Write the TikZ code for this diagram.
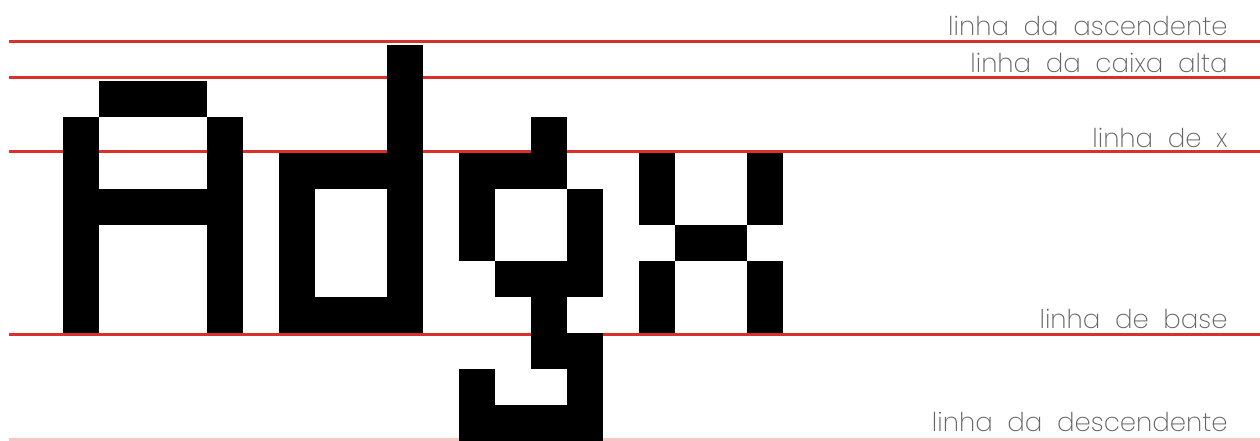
\documentclass[tikz,border=0pt]{standalone}
\usepackage{fontspec}
\newfontfamily\lblfont{Poppins ExtraLight}
\definecolor{guidered}{RGB}{218,48,44}
\definecolor{guidepink}{RGB}{245,200,195}
\definecolor{lblgray}{RGB}{100,100,100}
\begin{document}
\begin{tikzpicture}[x=0.5pt,y=-0.5pt,
  guide/.style={draw=guidered,line width=1.5pt},
  pix/.style={fill=black},
  lbl/.style={anchor=base east,inner sep=0pt,text=lblgray,font=\lblfont\fontsize{13}{13}\selectfont}]
\useasboundingbox (0,0) rectangle (1260,440);
% guide lines
\coordinate (asL) at (9,41);   \coordinate (asR) at (1260,41);
\coordinate (caL) at (9,77);   \coordinate (caR) at (1260,77);
\coordinate (xhL) at (9,151);  \coordinate (xhR) at (1260,151);
\coordinate (baL) at (9,334);  \coordinate (baR) at (1260,334);
\coordinate (deL) at (9,439);  \coordinate (deR) at (1260,439);
\draw[guide] (asL) -- (asR);
\draw[guide] (caL) -- (caR);
\draw[guide] (xhL) -- (xhR);
\draw[guide] (baL) -- (baR);
\draw[draw=guidepink,line width=1.5pt] (deL) -- (deR);
% A
\fill[pix] (99,81) rectangle (207,117);
\fill[pix] (63,117) rectangle (99,333);
\fill[pix] (207,117) rectangle (243,333);
\fill[pix] (99,189) rectangle (207,225);
% d
\fill[pix] (387,45) rectangle (423,333);
\fill[pix] (279,153) rectangle (387,189);
\fill[pix] (279,189) rectangle (315,333);
\fill[pix] (315,297) rectangle (387,333);
% g
\fill[pix] (531,117) rectangle (567,153);
\fill[pix] (459,153) rectangle (567,189);
\fill[pix] (459,189) rectangle (495,261);
\fill[pix] (567,189) rectangle (603,261);
\fill[pix] (495,261) rectangle (603,297);
\fill[pix] (531,297) rectangle (567,333);
\fill[pix] (531,333) rectangle (603,369);
\fill[pix] (459,369) rectangle (495,405);
\fill[pix] (567,369) rectangle (603,405);
\fill[pix] (459,405) rectangle (603,441);
% x
\fill[pix] (639,153) rectangle (675,225);
\fill[pix] (747,153) rectangle (783,225);
\fill[pix] (675,225) rectangle (747,261);
\fill[pix] (639,261) rectangle (675,333);
\fill[pix] (747,261) rectangle (783,333);
% labels
\node[lbl] (tas) at (1228,35) {linha\ \ da\ \ ascendente};
\node[lbl] (tca) at (1228,72) {linha\ \ da\ \ caixa\ \ alta};
\node[lbl] (txh) at (1228,147) {linha\ \ de\ \ x};
\node[lbl] (tba) at (1228,328) {linha\ \ de\ \ base};
\node[lbl] (tde) at (1228,431) {linha\ \ da\ \ descendente};
\end{tikzpicture}
\end{document}
